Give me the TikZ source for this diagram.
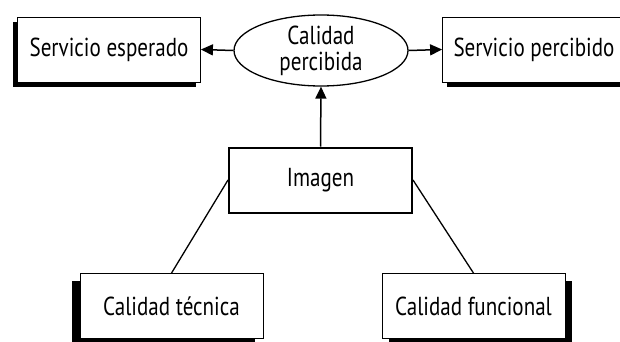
\documentclass[tikz,border=0pt]{standalone}
\usepackage{fontspec}
\setmainfont{PT Sans}[FakeStretch=0.81]
\usetikzlibrary{arrows.meta,shapes.geometric,shadows}

\begin{document}
\begin{tikzpicture}[x=1pt,y=1pt,
  caja/.style={draw,fill=white,line width=0.8pt,minimum width=183pt,minimum height=65pt,
    inner sep=0pt,font=\fontsize{26}{26}\selectfont},
  sombra/.style 2 args={drop shadow={shadow xshift=#1,shadow yshift=#2,fill=black,opacity=1}},
  flecha/.style={line width=1.5pt,-{Triangle[length=12pt,width=11pt]}},
  linea/.style={line width=1.3pt}]
\useasboundingbox (0,0) rectangle (620,341);
\clip (0,0) rectangle (620,341);
% nodos
\node[ellipse,draw,line width=1.3pt,minimum width=174pt,minimum height=71pt,inner sep=0pt,
  align=center,font=\fontsize{26}{26}\selectfont] (calidad) at (321,290.5) {Calidad\\percibida};
\node[caja,sombra={-5pt}{-5pt}] (esperado) at (109,291.5) {Servicio esperado};
\node[caja,sombra={4pt}{-5pt}] (percibido) at (534,291.5) {Servicio percibido};
\node[caja,line width=2pt] (imagen) at (320.5,161) {Imagen};
\node[caja,sombra={-8pt}{-7pt}] (tecnica) at (171.5,35) {Calidad técnica};
\node[caja,sombra={7pt}{-7pt}] (funcional) at (473.5,35) {Calidad funcional};
% conectores
\draw[flecha] (calidad.west) -- (esperado.east);
\draw[flecha] (calidad.east) -- (percibido.west);
\draw[flecha] (imagen.north) -- (calidad.south);
\draw[linea] (imagen.west) -- (tecnica.north);
\draw[linea] (imagen.east) -- (funcional.north);
\end{tikzpicture}
\end{document}
